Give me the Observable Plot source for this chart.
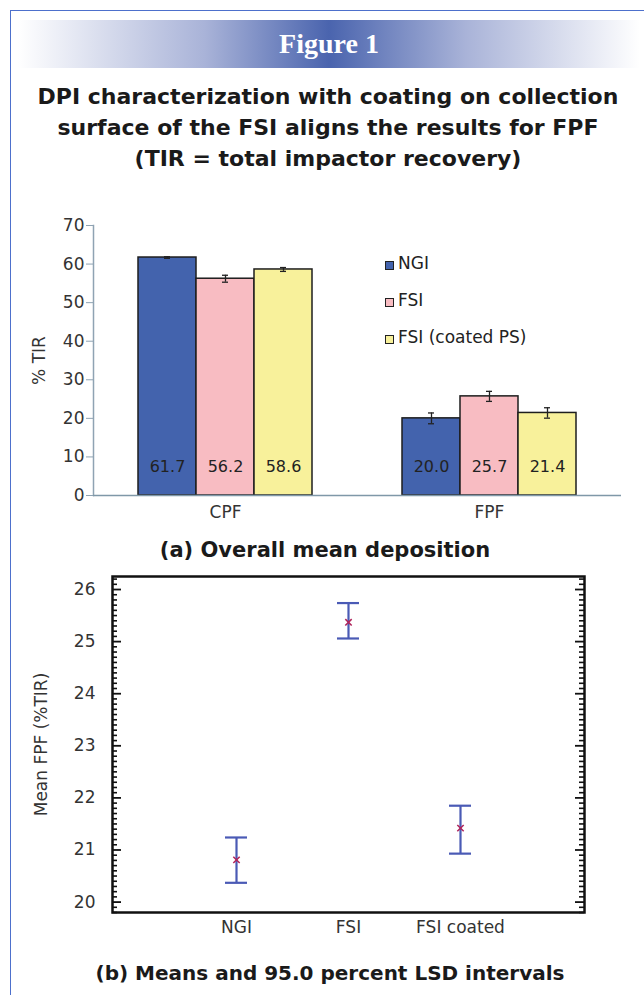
<!DOCTYPE html>
<html><head><meta charset="utf-8">
<script src="https://cdn.jsdelivr.net/npm/d3@7"></script>
<script src="https://cdn.jsdelivr.net/npm/@observablehq/plot@0.6"></script>
<style>
body{margin:0;background:#fff;}
#page{position:relative;width:644px;height:995px;overflow:hidden;font-family:"DejaVu Sans",sans-serif;color:#222;}
#border{position:absolute;left:10px;top:10px;width:700px;height:1000px;border-left:1.5px solid #4d70cc;border-top:1.5px solid #4d70cc;}
#band{position:absolute;left:18px;top:20px;width:622px;height:48px;line-height:48px;text-align:center;color:#fff;font-family:"Liberation Serif",serif;font-weight:bold;font-size:28px;
 background:linear-gradient(to right,#ffffff 0%,#a9b3d8 30%,#4a64ae 50%,#a9b3d8 72%,#ffffff 100%);}
#title{position:absolute;left:6px;top:81px;width:644px;text-align:center;font-weight:bold;font-size:22px;line-height:31px;color:#1a1a1a;}
#top{position:absolute;left:0;top:200px;}
#bottom{position:absolute;left:0;top:560px;}
.sub{position:absolute;width:644px;text-align:center;font-weight:bold;color:#1a1a1a;line-height:26px;}
#subA{left:3px;top:537px;font-size:21px;}
#subB{left:8px;top:960px;font-size:20px;}
.leg{position:absolute;left:385px;height:20px;line-height:20px;font-size:17px;color:#222;white-space:nowrap;}
.leg span.sw{display:inline-block;width:7px;height:7px;border:1px solid #222;margin-right:4px;vertical-align:middle;position:relative;top:1px;}
</style></head><body>
<div id="page">
 <div id="border"></div>
 <div id="band">Figure 1</div>
 <div id="title">DPI characterization with coating on collection<br>surface of the FSI aligns the results for FPF<br>(TIR = total impactor recovery)</div>
 <div id="top"></div>
 <div id="legend"></div>
 <div class="sub" id="subA">(a) Overall mean deposition</div>
 <div id="bottom"></div>
 <div class="sub" id="subB">(b) Means and 95.0 percent LSD intervals</div>
</div>
<script>
// ---- Panel (a) data ----
const categories = ["CPF", "FPF"];
const series = ["NGI", "FSI", "FSI (coated PS)"];
const ngiValues = [61.7, 20.0];
const fsiValues = [56.2, 25.7];
const coatedValues = [58.6, 21.4];
const ngiErrors = [0.2, 1.4];
const fsiErrors = [0.9, 1.3];
const coatedErrors = [0.5, 1.35];
const seriesColors = ["#4363ad", "#f8bcc2", "#f8f19b"];
const yTicksTop = [0, 10, 20, 30, 40, 50, 60, 70];

// ---- Panel (b) data ----
const groups = ["NGI", "FSI", "FSI coated"];
const lsdMeans = [20.81, 25.37, 21.42];
const lsdLower = [20.37, 25.06, 20.93];
const lsdUpper = [21.24, 25.74, 21.85];
const yTicksBottom = [20, 21, 22, 23, 24, 25, 26];

const valueSets = [ngiValues, fsiValues, coatedValues];
const errorSets = [ngiErrors, fsiErrors, coatedErrors];
const rows = [];
categories.forEach((c, i) => {
  series.forEach((s, j) => {
    rows.push({cat: c, series: s, value: valueSets[j][i], err: errorSets[j][i]});
  });
});

const errColor = "#222";
const topPlot = Plot.plot({
  width: 644, height: 330,
  marginLeft: 93, marginRight: 23, marginTop: 25, marginBottom: 35,
  style: {fontFamily: "DejaVu Sans", fontSize: "17px", color: "#333", background: "transparent"},
  fx: {domain: categories, padding: 0, label: null},
  x: {domain: series, paddingInner: 0, paddingOuter: 0.75, axis: null},
  y: {domain: [0, 70]},
  color: {domain: series, range: seriesColors},
  marks: [
    Plot.axisY(yTicksTop, {tickSize: 7, tickPadding: 2, stroke: "#8fa3b3", fill: "#333", fontSize: 17,
      label: "% TIR", labelArrow: "none", labelAnchor: "center", labelOffset: 61}),
    Plot.axisFx({anchor: "bottom", tickSize: 0, tickPadding: 10, fontSize: 17, label: null, fill: "#333"}),
    Plot.frame({anchor: "left", facetAnchor: "left", stroke: "#8fa3b3", strokeWidth: 1.5}),
    Plot.barY(rows, {fx: "cat", x: "series", y: "value", fill: "series", stroke: "#1e1e1e", strokeWidth: 1.5}),
    Plot.ruleY([0], {stroke: "#7f98a8", strokeWidth: 1.5}),
    Plot.ruleX(rows, {fx: "cat", x: "series", y1: d => d.value - d.err, y2: d => d.value + d.err, stroke: errColor, strokeWidth: 1.3}),
    Plot.tickY(rows, {fx: "cat", x: "series", y: d => d.value + d.err, insetLeft: 26, insetRight: 26, stroke: errColor, strokeWidth: 1.3}),
    Plot.tickY(rows, {fx: "cat", x: "series", y: d => d.value - d.err, insetLeft: 26, insetRight: 26, stroke: errColor, strokeWidth: 1.3}),
    Plot.text(rows, {fx: "cat", x: "series", y: d => 0, dy: -29, text: d => d.value.toFixed(1), fontSize: 16, fill: "#222"})
  ]
});
document.getElementById("top").appendChild(topPlot);

// Legend
const legRowsY = [253, 290, 327];
const legend = document.getElementById("legend");
series.forEach((s, i) => {
  const div = document.createElement("div");
  div.className = "leg";
  div.style.top = (legRowsY[i]) + "px";
  div.innerHTML = `<span class="sw" style="background:${seriesColors[i]}"></span>${s}`;
  legend.appendChild(div);
});

// ---- Panel (b) ----
const lsd = groups.map((g, i) => ({group: g, mean: lsdMeans[i], lo: lsdLower[i], hi: lsdUpper[i]}));
const minorTicks = d3.range(198, 263).filter(v => v % 10 !== 0).map(v => v / 10);
const bW = 644, bML = 112, bMR = 60;
const frameW = bW - bML - bMR;
const ivColor = "#4a5ab5";
const bottomPlot = Plot.plot({
  width: bW, height: 385,
  marginLeft: bML, marginRight: bMR, marginTop: 16, marginBottom: 33,
  style: {fontFamily: "DejaVu Sans", fontSize: "17px", color: "#333", background: "transparent"},
  x: {domain: groups, paddingInner: 0.8, paddingOuter: 1.0},
  y: {domain: [19.8, 26.25]},
  marks: [
    Plot.axisX({tickSize: 0, tickPadding: 8, fontSize: 17, label: null, fill: "#333"}),
    Plot.axisY(yTicksBottom, {tickSize: 0, tickPadding: 17, fontSize: 17, fill: "#333", tickFormat: d => String(d),
      label: "Mean FPF (%TIR)", labelArrow: "none", labelAnchor: "center", labelOffset: 78}),
    Plot.tickY(minorTicks, {y: d => d, insetRight: frameW - 5, stroke: "#111", strokeWidth: 1.6}),
    Plot.tickY(minorTicks, {y: d => d, insetLeft: frameW - 5, stroke: "#111", strokeWidth: 1.6}),
    Plot.tickY(yTicksBottom, {y: d => d, insetRight: frameW - 9, stroke: "#111", strokeWidth: 1.8}),
    Plot.tickY(yTicksBottom, {y: d => d, insetLeft: frameW - 9, stroke: "#111", strokeWidth: 1.8}),
    Plot.frame({stroke: "#111", strokeWidth: 2.5}),
    Plot.ruleX(lsd, {x: "group", y1: "lo", y2: "hi", stroke: ivColor, strokeWidth: 2.2}),
    Plot.tickY(lsd, {x: "group", y: "lo", stroke: ivColor, strokeWidth: 2.2}),
    Plot.tickY(lsd, {x: "group", y: "hi", stroke: ivColor, strokeWidth: 2.2}),
    Plot.dot(lsd, {x: "group", y: "mean", symbol: "times", r: 3, stroke: "#b0245a", strokeWidth: 1.5})
  ]
});
document.getElementById("bottom").appendChild(bottomPlot);
</script>
</body></html>
